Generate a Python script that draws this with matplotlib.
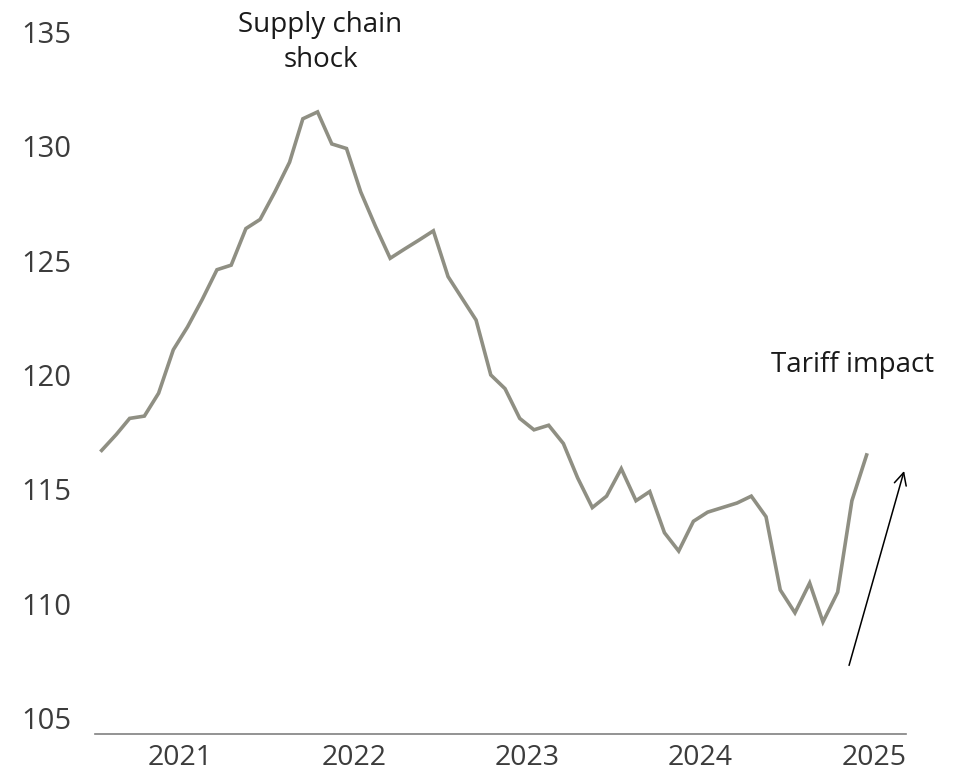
import matplotlib
matplotlib.use("Agg")
import matplotlib.pyplot as plt
import pandas as pd

# monthly index, Jan 2021 - Jun 2025
start_month = "2021-01"
values = [116.7, 117.4, 118.1, 118.2, 119.2, 121.1, 122.1, 123.3, 124.6, 124.8,
          126.4, 126.8, 128.0, 129.3, 131.2, 131.5, 130.1, 129.9, 128.0, 126.5,
          125.1, 125.5, 125.9, 126.3, 124.3, 123.3, 122.4, 120.0, 119.4, 118.1,
          117.6, 117.8, 117.0, 115.5, 114.2, 114.7, 115.9, 114.5, 114.9, 113.1,
          112.3, 113.6, 114.0, 114.2, 114.4, 114.7, 113.8, 110.6, 109.6, 110.9,
          109.2, 110.5, 114.5, 116.5]
year_labels = ["2021", "2022", "2023", "2024", "2025"]
y_ticks = [105, 110, 115, 120, 125, 130, 135]

dates = pd.date_range(start_month, periods=len(values), freq="MS")
label_dates = pd.to_datetime([f"{y}-06-16" for y in year_labels])

plt.rcParams["font.family"] = ["Open Sans", "DejaVu Sans"]

fig = plt.figure(figsize=(9.55, 7.76), dpi=100)
ax = fig.add_axes([95 / 955, 42 / 776, 811 / 955, 725 / 776])

ax.plot(dates, values, color="#8f8f83", lw=2.6, solid_joinstyle="miter")

ax.set_xlim(pd.Timestamp("2020-12-18"), pd.Timestamp("2025-08-23"))
ax.set_ylim(104.3, 136.0)

ax.set_yticks(y_ticks)
ax.set_yticklabels([str(t) for t in y_ticks])
ax.set_xticks(label_dates)
ax.set_xticklabels(year_labels)
ax.tick_params(axis="y", length=0, labelsize=21, labelcolor="#3c3c3c")
ax.tick_params(axis="x", length=0, pad=7, labelsize=20.5, labelcolor="#3c3c3c")
for lab in ax.get_yticklabels():
    lab.set_horizontalalignment("left")
ax.yaxis.set_tick_params(pad=53)

for side in ["top", "right", "left"]:
    ax.spines[side].set_visible(False)
ax.spines["bottom"].set_color("#808080")
ax.spines["bottom"].set_linewidth(1.2)

ax.text(pd.Timestamp("2022-04-07"), 134.55, "Supply chain\nshock", ha="center",
        va="center", fontsize=20, color="#1a1a1a", linespacing=1.32, clip_on=False)
ax.text(pd.Timestamp("2025-05-03"), 120.45, "Tariff impact", ha="center",
        va="center", fontsize=20, color="#1a1a1a", clip_on=False)
ax.annotate("", xy=(pd.Timestamp("2025-08-19"), 115.8),
            xytext=(pd.Timestamp("2025-04-25"), 107.3),
            arrowprops=dict(arrowstyle="->", color="black", lw=1.1,
                            mutation_scale=22, shrinkA=0, shrinkB=0),
            annotation_clip=False)

fig.savefig("out.png", dpi=100)
